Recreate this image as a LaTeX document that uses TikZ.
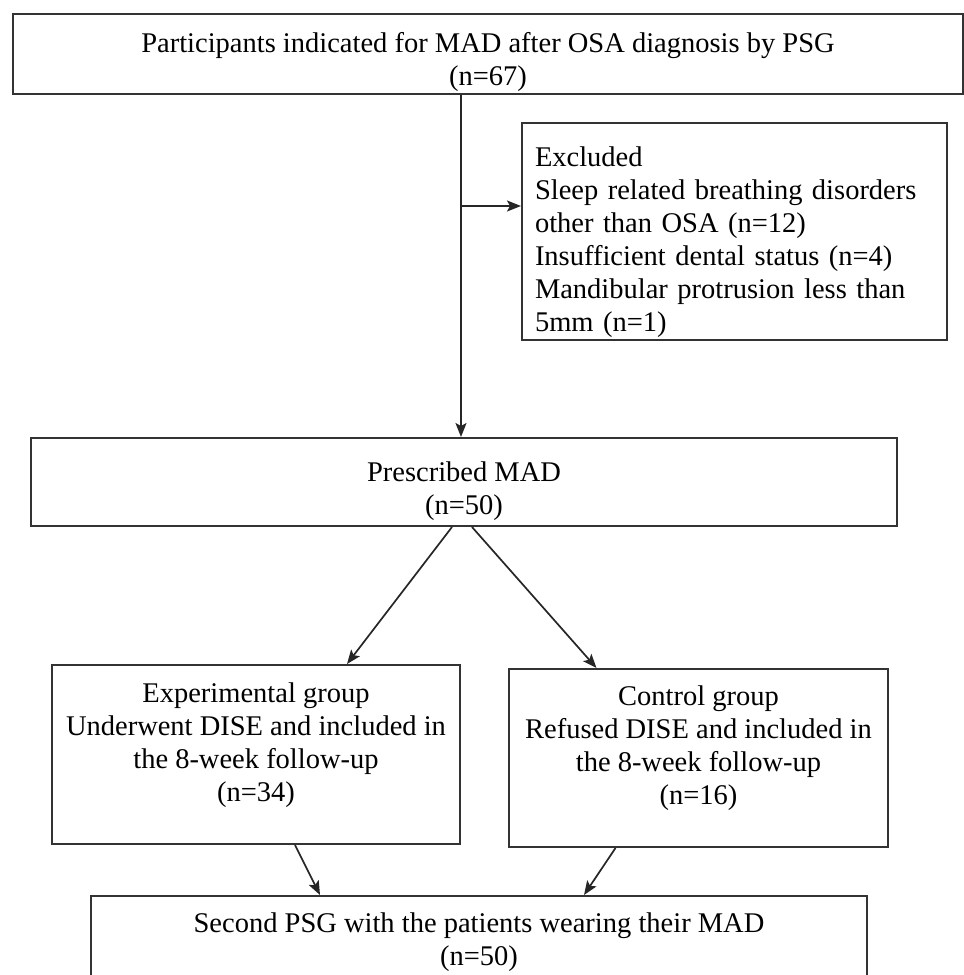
\documentclass[tikz,border=0pt]{standalone}
\usepackage{fontspec}
\setmainfont{Liberation Serif}
\usetikzlibrary{arrows.meta}

\begin{document}
\begin{tikzpicture}[x=1pt,y=-1pt,
    box/.style={draw=black!80,line width=2pt,align=center,inner sep=0pt,
      font=\fontsize{28.5}{33}\selectfont},
    link/.style={draw=black!85,line width=1.7pt,
      -{Stealth[length=14pt,width=11pt,inset=3pt]}}]
  \useasboundingbox (0,0) rectangle (964,975);
  \clip (0,0) rectangle (964,975);

  \node[box,minimum width=950pt,minimum height=80pt] (n67) at (488,54)
    {\rule{0pt}{36pt}Participants indicated for MAD after OSA diagnosis by PSG\\(n=67)};

  \node[box,minimum width=425pt,minimum height=217pt,text width=399pt,align=left] (excl) at (734.5,231.5)
    {\rule{0pt}{42pt}Excluded\\
     Sleep related breathing disorders\\
     other than OSA (n=12)\\
     Insufficient dental status (n=4)\\
     Mandibular protrusion less than\\
     5mm (n=1)};

  \node[box,minimum width=866pt,minimum height=88pt] (mad50) at (464,482)
    {\rule{0pt}{38pt}Prescribed MAD\\(n=50)};

  \node[box,minimum width=408pt,minimum height=179pt] (exper) at (256,754.5)
    {Experimental group\\Underwent DISE and included in\\the 8-week follow-up\\(n=34)\rule[-25pt]{0pt}{25pt}};

  \node[box,minimum width=379pt,minimum height=178pt] (ctrl) at (698.5,758)
    {Control group\\Refused DISE and included in\\the 8-week follow-up\\(n=16)\rule[-25pt]{0pt}{25pt}};

  \node[box,minimum width=776pt,minimum height=92pt] (psg2) at (479,942)
    {Second PSG with the patients wearing their MAD\\(n=50)};

  % connectors
  \coordinate (branch) at (461,206);
  \draw[link] (branch |- n67.south) -- (branch |- mad50.north);
  \draw[link] (branch) -- (branch -| excl.west);

  \draw[link] ([xshift=-12pt]mad50.south) -- ([xshift=91pt]exper.north);
  \draw[link] ([xshift=8pt]mad50.south) -- ([xshift=-102pt]ctrl.north);

  \draw[link] ([xshift=39pt]exper.south) -- ([xshift=-159pt]psg2.north);
  \draw[link] ([xshift=-83pt]ctrl.south) -- ([xshift=105pt]psg2.north);
\end{tikzpicture}
\end{document}
